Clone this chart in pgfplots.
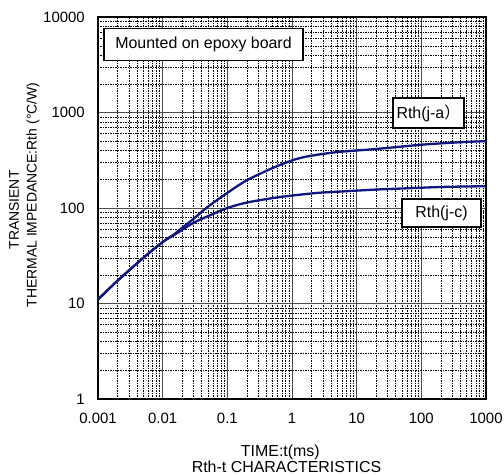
\documentclass[border=0pt]{standalone}
\usepackage{fontspec}
\setmainfont{Liberation Sans}
\newfontfamily\cjk{Noto Sans CJK JP}
\usepackage{pgfplots}
\pgfplotsset{compat=1.18}
\definecolor{curvecol}{RGB}{16,22,128}

\begin{document}
\begin{tikzpicture}
\useasboundingbox (-98bp,-76bp) rectangle (406bp,399bp);
\begin{axis}[
    at={(0,0)}, anchor=south west,
    scale only axis,
    width=388bp, height=382bp,
    xmode=log, ymode=log,
    xmin=0.001, xmax=1000,
    ymin=1, ymax=10000,
    xtick={0.001,0.01,0.1,1,10,100,1000},
    xticklabels={0.001,0.01,0.1,1,10,100,1000},
    ytick={1,10,100,1000,10000},
    yticklabels={1,10,100,1000,10000},
    major tick length=0pt, minor tick length=0pt,
    xmajorgrids, ymajorgrids, xminorgrids, yminorgrids,
    major grid style={black!70, line width=0.6bp},
    minor grid style={black, line width=0.5bp, dash pattern=on 1.5bp off 1bp},
    axis line style={line width=1.8bp},
    /pgf/number format/assume math mode=true,
    tick label style={font=\fontsize{15}{17}\selectfont, inner sep=0pt},
    xticklabel style={yshift=-14bp},
    yticklabel style={xshift=-13bp},
    clip=false,
]
% Rth(j-a)
\addplot[curvecol, line width=2.3bp, smooth, tension=0.5] coordinates {
  (0.001,11) (0.002,17.3) (0.005,30) (0.01,44) (0.015,53) (0.02,62)
  (0.03,77) (0.05,103) (0.1,144) (0.2,195) (0.5,262) (1,315) (1.5,340)
  (2.5,362) (5,385) (10,400) (20,415) (50,440) (100,460) (200,475)
  (500,492) (1000,501)
};
% Rth(j-c)
\addplot[curvecol, line width=2.3bp, smooth, tension=0.5] coordinates {
  (0.001,11) (0.002,17.3) (0.005,30) (0.01,44) (0.015,52) (0.02,59)
  (0.03,70) (0.05,82) (0.1,100) (0.2,114) (0.5,127) (1,135) (2.5,144)
  (5,148) (10,152) (20,156) (50,160) (100,163) (200,166) (500,168)
  (1000,169)
};
\node[draw, fill=white, line width=1.2bp, minimum width=199bp, minimum height=32bp,
  inner sep=0pt, font=\fontsize{16}{18}\selectfont] at (rel axis cs:0.272,0.929) {Mounted on epoxy board};
\node[draw, fill=white, line width=1.2bp, minimum width=71bp, minimum height=30bp,
  inner sep=0pt, font=\fontsize{16}{18}\selectfont] at (rel axis cs:0.8516,0.7487) {Rth(j-a{\cjk ）}};
\node[draw, fill=white, line width=1.2bp, minimum width=79bp, minimum height=28bp,
  inner sep=0pt, font=\fontsize{16}{18}\selectfont] at (rel axis cs:0.8853,0.4869) {Rth(j-c)};
\node[font=\fontsize{16}{18}\selectfont] at (rel axis cs:0.470,-0.139) {TIME:t(ms)};
\node[font=\fontsize{16}{18}\selectfont] at (rel axis cs:0.486,-0.177) {Rth-t CHARACTERISTICS};
\node[rotate=90, font=\fontsize{14}{16}\selectfont] at (rel axis cs:-0.2165,0.4948) {TRANSIENT};
\node[rotate=90, font=\fontsize{14}{16}\selectfont] at (rel axis cs:-0.1675,0.534) {THERMAL IMPEDANCE:Rth (°C/W)};
\end{axis}
\end{tikzpicture}
\end{document}
